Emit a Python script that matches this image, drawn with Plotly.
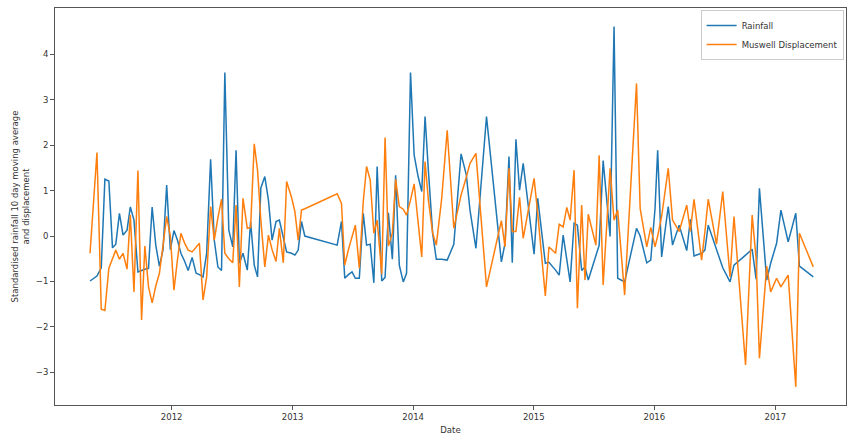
import pandas as pd
import plotly.graph_objects as go

dates = [
    "2011-04-29", "2011-05-20", "2011-06-02", "2011-06-13", "2011-06-25", "2011-07-06", "2011-07-16",
    "2011-07-27", "2011-08-07", "2011-08-19", "2011-08-29", "2011-09-09", "2011-09-21", "2011-10-02",
    "2011-10-12", "2011-10-23", "2011-11-03", "2011-11-14", "2011-11-25", "2011-12-06", "2011-12-17",
    "2011-12-28",
    "2012-01-08", "2012-01-19", "2012-01-29", "2012-02-09", "2012-02-20", "2012-03-03", "2012-03-15",
    "2012-03-25", "2012-04-05", "2012-04-16", "2012-04-28", "2012-05-09", "2012-05-20", "2012-05-31",
    "2012-06-10", "2012-06-22", "2012-07-04", "2012-07-14", "2012-07-24", "2012-08-04", "2012-08-17",
    "2012-08-27", "2012-09-07", "2012-09-17", "2012-09-27", "2012-10-09", "2012-10-20", "2012-10-31",
    "2012-11-12", "2012-11-22", "2012-12-04", "2012-12-14", "2012-12-29",
    "2013-01-08", "2013-01-18", "2013-01-28", "2013-02-07", "2013-05-16", "2013-05-29", "2013-06-08",
    "2013-06-19", "2013-06-30", "2013-07-10", "2013-07-22", "2013-08-03", "2013-08-13", "2013-08-24",
    "2013-09-04", "2013-09-14", "2013-09-28", "2013-10-08", "2013-10-18", "2013-10-30", "2013-11-09",
    "2013-11-20", "2013-12-02", "2013-12-12", "2013-12-24",
    "2014-01-04", "2014-01-16", "2014-01-27", "2014-02-06", "2014-02-16", "2014-03-01", "2014-03-12",
    "2014-03-28", "2014-04-14", "2014-05-04", "2014-05-26", "2014-06-11", "2014-06-22", "2014-07-10",
    "2014-08-11", "2014-09-25", "2014-10-06", "2014-10-18", "2014-10-28", "2014-11-08", "2014-11-19",
    "2014-11-30",
    "2015-01-02", "2015-01-13", "2015-02-05", "2015-02-16", "2015-03-08", "2015-03-19", "2015-03-31",
    "2015-04-11", "2015-04-21", "2015-05-03", "2015-05-13", "2015-05-26", "2015-06-05", "2015-06-15",
    "2015-07-08", "2015-07-18", "2015-07-30", "2015-08-20", "2015-09-01", "2015-09-12", "2015-10-03",
    "2015-11-08", "2015-11-19", "2015-12-09", "2015-12-21",
    "2016-01-03", "2016-01-11", "2016-01-23", "2016-02-12", "2016-02-25", "2016-03-16", "2016-04-08",
    "2016-04-19", "2016-04-30", "2016-05-23", "2016-06-02", "2016-06-12", "2016-07-07", "2016-07-26",
    "2016-08-17", "2016-08-29", "2016-10-03", "2016-10-23", "2016-11-04", "2016-11-14", "2016-12-06",
    "2016-12-18",
    "2017-01-05", "2017-01-18", "2017-02-09", "2017-03-04", "2017-03-15", "2017-04-26",
]

rainfall = [
    -0.99, -0.88, -0.70, 1.25, 1.21, -0.26, -0.18, 0.50, 0.02, 0.13, 0.64, 0.35, -0.79, -0.75,
    -0.73, -0.71, 0.64, -0.20, -0.67, -0.30, 1.12, -0.30,
    0.12, -0.10, -0.38, -0.55, -0.76, -0.47, -0.82, -0.85, -0.90, -0.38, 1.69, -0.09, -0.68, -0.76,
    3.60, 0.13, -0.24, 1.89, -0.60, -0.38, -0.75, 0.32, -0.64, -0.90, 1.06, 1.31, 0.79, -0.09,
    0.32, 0.35, -0.01, -0.35, -0.38,
    -0.42, -0.31, 0.32, 0.00, -0.20, 0.32, -0.93, -0.85, -0.79, -0.93, -0.93, 0.50, -0.20, -0.18,
    -1.03, 1.53, -0.99, -0.91, 0.51, -0.51, 1.34, -0.64, -1.01, -0.82, 3.60,
    1.78, 1.31, 0.98, 2.63, 1.45, 0.06, -0.51, -0.51, -0.53, -0.18, 1.81, 1.34, 0.57, -0.27,
    2.63, -0.57, -0.16, 1.75, -0.59, 2.13, 1.01, 1.60,
    -0.40, 0.83, -0.60, -0.58, -0.75, -0.86, 0.02, -0.50, -1.01, 0.28, 0.24, -0.76, -0.68, -0.97,
    -0.40, -0.20, 1.66, -0.01, 4.61, -0.93, -1.01, 0.17, 0.00, -0.59, -0.53,
    0.60, 1.89, -0.46, 0.65, -0.20, 0.24, -0.32, 0.37, -0.44, -0.38, -0.31, 0.24, -0.27, -0.70,
    -1.01, -0.64, -0.42, -0.29, -0.95, 1.05, -0.97, -0.60,
    -0.16, 0.57, -0.13, 0.50, -0.66, -0.90,
]

displacement = [
    -0.38, 1.84, -1.61, -1.64, -0.71, -0.50, -0.31, -0.51, -0.38, -0.73, 0.46, -1.23, 1.44, -1.85,
    -0.22, -1.12, -1.47, -1.10, -0.82, -0.20, 0.43, 0.00,
    -1.19, -0.50, 0.06, -0.15, -0.31, -0.35, -0.25, -0.16, -1.41, -0.90, 0.65, -0.09, 0.40, 0.81,
    -0.38, -0.50, -0.59, 0.68, -1.12, 0.83, 0.17, 0.19, 2.03, 1.45, 0.35, -0.68, 0.02, -0.30,
    -0.56, 0.17, -0.59, 1.20, 0.85,
    0.54, -0.09, 0.57, 0.60, 0.93, 0.72, -0.64, -0.30, 0.00, 0.24, -0.71, 0.76, 1.53, 1.23,
    0.06, 0.35, -0.84, 2.17, -0.22, 0.06, 1.25, 0.65, 0.59, 0.46, 0.79,
    1.15, 0.30, -0.46, 1.64, 0.80, 0.06, -0.20, 0.80, 2.33, 0.17, 0.90, 1.30, 1.60, 1.82,
    -1.12, 0.34, -0.24, 1.49, 0.10, 0.10, 0.85, -0.05,
    1.27, 0.50, -1.32, -0.24, -0.38, 0.26, 0.20, 0.63, 0.35, 1.45, -1.59, 0.68, -0.97, 0.48,
    -0.20, 1.78, -1.08, 1.49, 0.35, 0.57, -1.30, 3.36, 0.61, -0.24, 0.19,
    -0.24, 0.00, 0.43, 1.49, 0.35, 0.10, 0.68, 0.10, 0.81, -0.53, 0.10, 0.81, -0.18, 0.98,
    -0.90, 0.43, -2.84, 0.46, -0.50, -2.69, -0.66, -1.23,
    -0.93, -1.12, -0.86, -3.32, 0.06, -0.68,
]

x = pd.to_datetime(dates)

fig = go.Figure()
fig.add_trace(go.Scatter(x=x, y=rainfall, mode="lines", name="Rainfall",
                         line=dict(color="#1f77b4", width=1.5)))
fig.add_trace(go.Scatter(x=x, y=displacement, mode="lines", name="Muswell Displacement",
                         line=dict(color="#ff7f0e", width=1.5)))

axis_common = dict(showgrid=False, zeroline=False, showline=True, mirror=True,
                   linecolor="#555555", linewidth=1, ticks="outside", ticklen=4,
                   tickcolor="#555555", tickfont=dict(size=8.5, color="#333333"))

fig.update_layout(
    width=848, height=438,
    margin=dict(l=55, r=2, t=8, b=33),
    paper_bgcolor="white", plot_bgcolor="white",
    font=dict(family="DejaVu Sans", size=8.5, color="#333333"),
    xaxis=dict(range=["2011-01-13", "2017-08-03"], tickformat="%Y", dtick="M12",
               tick0="2012-01-01",
               title=dict(text="Date", standoff=5, font=dict(size=8.5)), **axis_common),
    yaxis=dict(range=[-3.72, 5.02], tickvals=[-3, -2, -1, 0, 1, 2, 3, 4],
               title=dict(text="Standardised rainfall 10 day moving average<br>and displacement",
                          standoff=4, font=dict(size=8.5)), **axis_common),
    legend=dict(x=0.997, y=0.995, xanchor="right", yanchor="top",
                bgcolor="rgba(255,255,255,0.8)", bordercolor="#cccccc", borderwidth=1,
                font=dict(size=8.5), tracegroupgap=0, itemwidth=30),
    showlegend=True,
)

fig.write_html("out.html", config={"displayModeBar": False},
               post_script="document.body.style.margin='0';document.body.style.padding='0';")
